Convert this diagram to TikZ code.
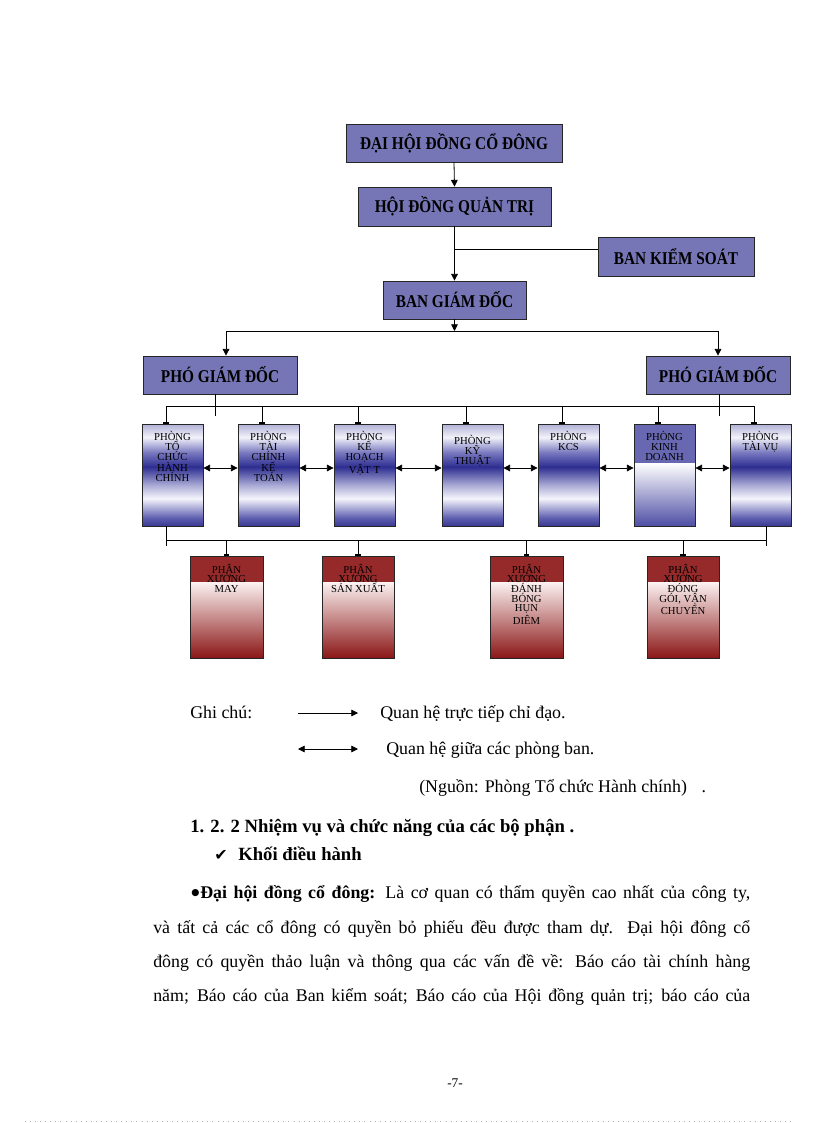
\documentclass[tikz,border=0pt]{standalone}
\usepackage{fontspec}
\setmainfont{Liberation Serif}
\newfontfamily\cfont[FakeStretch=0.85]{Liberation Serif}
\newfontfamily\symfont{DejaVu Sans}
\usetikzlibrary{arrows.meta}
\definecolor{boxblue}{RGB}{118,118,182}
\definecolor{kdblue}{RGB}{104,104,178}
\definecolor{kdlow}{RGB}{78,78,165}
\definecolor{kdmid}{RGB}{190,190,225}
\definecolor{redband}{RGB}{150,42,42}
\definecolor{redlow}{RGB}{138,22,22}
\definecolor{redmid}{RGB}{205,140,140}
\definecolor{redtop}{RGB}{252,242,242}
\pgfdeclareverticalshading{deptshade}{100bp}{rgb(0bp)=(0.22,0.22,0.57); rgb(25bp)=(0.22,0.22,0.57); rgb(29bp)=(0.37,0.37,0.69); rgb(38.5bp)=(0.96,0.96,0.99); rgb(45bp)=(0.67,0.67,0.84); rgb(54bp)=(0.18,0.18,0.57); rgb(61bp)=(0.47,0.47,0.75); rgb(68.5bp)=(0.95,0.95,0.98); rgb(75bp)=(0.69,0.69,0.84); rgb(100bp)=(0.69,0.69,0.84)}
\newcommand\lgfont{\fontsize{13.4}{16}\selectfont}
\newcommand\hdfont{\fontsize{14}{17}\selectfont\bfseries}
\newcommand\dtext[2]{\parbox[t][76.5pt][t]{#1}{\centering\fontsize{8}{7.6}\selectfont #2}}
\newcommand\rtext[2]{\parbox[t][76.5pt][t]{#1}{\centering\fontsize{8}{7.3}\selectfont #2}}
\begin{document}
\begin{tikzpicture}[x=0.75pt,y=-0.75pt,
  topbox/.style={draw=black!85, fill=boxblue, line width=0.6pt, inner sep=0pt, font=\cfont\bfseries\fontsize{13.5}{14}\selectfont},
  dept/.style={draw=black!85, line width=0.6pt, shading=deptshade, minimum width=45.75pt, minimum height=76.5pt, inner sep=0pt},
  kdbox/.style={draw=black!85, line width=0.6pt, minimum width=45.75pt, minimum height=76.5pt, inner sep=0pt,
    path picture={\fill[kdblue] (path picture bounding box.north west) rectangle ([yshift=-29.25pt]path picture bounding box.north east);
      \shade[top color=white, middle color=kdmid, bottom color=kdlow] ([yshift=-29.25pt]path picture bounding box.north west) rectangle (path picture bounding box.south east);}},
  wbox/.style={draw=black!85, line width=0.6pt, minimum height=76.5pt, inner sep=0pt,
    path picture={\fill[redband] (path picture bounding box.north west) rectangle ([yshift=-19.5pt]path picture bounding box.north east);
      \shade[top color=redtop, middle color=redmid, bottom color=redlow] ([yshift=-19.5pt]path picture bounding box.north west) rectangle (path picture bounding box.south east);}},
  conn/.style={line width=0.6pt},
  arr/.style={line width=0.6pt, -{Triangle[length=5pt,width=5pt]}},
  darr/.style={line width=0.6pt, {Triangle[length=5pt,width=5pt]}-{Triangle[length=5pt,width=5pt]}},
  stub/.style={line width=0.6pt, -{Rectangle[length=1.2pt,width=4pt]}},
  txt/.style={anchor=base west, inner sep=0pt, font=\lgfont}]
\useasboundingbox (0,0) rectangle (816,1123);

% top boxes
\node[topbox, minimum width=162pt, minimum height=28.5pt] (dhd) at (454,143) {ĐẠI HỘI ĐỒNG CỔ ĐÔNG};
\node[topbox, minimum width=144.75pt, minimum height=29.25pt] (hdqt) at (454.5,206.5) {HỘI ĐỒNG QUẢN TRỊ};
\node[topbox, minimum width=117pt, minimum height=29.25pt] (bks) at (676,256.5) {BAN KIỂM SOÁT};
\node[topbox, minimum width=107.25pt, minimum height=28.5pt] (bgd) at (454.5,300) {BAN GIÁM ĐỐC};
\node[topbox, minimum width=115.5pt, minimum height=28.5pt] (pgd1) at (220,375) {PHÓ GIÁM ĐỐC};
\node[topbox, minimum width=108pt, minimum height=28.5pt] (pgd2) at (718,375) {PHÓ GIÁM ĐỐC};

\draw[arr] (dhd.south) -- (hdqt.north);
\draw[arr] (hdqt.south) -- (bgd.north);
\coordinate (bksj) at (454.5,249);
\draw[conn] (bksj) -- (bksj -| bks.west);
\coordinate (busL) at (226,331);
\coordinate (busR) at (718,331);
\draw[arr] (bgd.south) -- (bgd.south |- busL);
\draw[conn] (busL) -- (busR);
\draw[arr] (busL) -- (busL |- pgd1.north);
\draw[arr] (busR) -- (busR |- pgd2.north);

% departments
\node[dept] (d1) at (172.5,475) {\dtext{45.75pt}{\rule{0pt}{12.5pt}PHÒNG\\TỔ\\CHỨC\\HÀNH\\CHÍNH}};
\node[dept] (d2) at (268.5,475) {\dtext{45.75pt}{\rule{0pt}{12.5pt}PHÒNG\\TÀI\\CHÍNH\\KẾ\\TOÁN}};
\node[dept] (d3) at (364.5,475) {\dtext{45.75pt}{\rule{0pt}{12.5pt}PHÒNG\\KẾ\\HOẠCH\\VẬT T}};
\node[dept] (d4) at (472.5,475) {\dtext{45.75pt}{\rule{0pt}{15.5pt}PHÒNG\\KỸ\\THUẬT}};
\node[dept] (d5) at (568.5,475) {\dtext{45.75pt}{\rule{0pt}{12.5pt}PHÒNG\\KCS}};
\node[kdbox] (d6) at (664.5,475) {\dtext{45.75pt}{\rule{0pt}{12pt}PHÒNG\\KINH\\DOANH}};
\node[dept] (d7) at (760.5,475) {\dtext{45.75pt}{\rule{0pt}{12.5pt}PHÒNG\\TÀI VỤ}};

% bus to departments
\coordinate (dbL) at (166,406);
\coordinate (dbR) at (755,406);
\draw[conn] (dbL) -- (dbR);
\draw[conn] ([xshift=-3.75pt]pgd1.south) -- ++(0,-16.5pt);
\draw[conn] ([xshift=0.75pt]pgd2.south) -- ++(0,-16.5pt);
\foreach \d in {d1,d2,d3,d4,d5,d6,d7}{
  \draw[stub] ([xshift=-4.875pt]\d.north |- dbL) -- ([xshift=-4.875pt]\d.north);
}
\draw[darr] ([yshift=5.25pt]d1.east) -- ([yshift=5.25pt]d2.west);
\draw[darr] ([yshift=5.25pt]d2.east) -- ([yshift=5.25pt]d3.west);
\draw[darr] ([yshift=5.25pt]d3.east) -- ([yshift=5.25pt]d4.west);
\draw[darr] ([yshift=5.25pt]d4.east) -- ([yshift=5.25pt]d5.west);
\draw[darr] ([yshift=5.25pt]d5.east) -- ([yshift=5.25pt]d6.west);
\draw[darr] ([yshift=5.25pt]d6.east) -- ([yshift=5.25pt]d7.west);

% workshops
\node[wbox, minimum width=54.75pt] (x1) at (226.5,607) {\rtext{54.75pt}{\rule{0pt}{12.75pt}PHÂN\\XƯỞNG\\MAY}};
\node[wbox, minimum width=54pt] (x2) at (358,607) {\rtext{54pt}{\rule{0pt}{12.75pt}PHÂN\\XƯỞNG\\SẢN XUẤT}};
\node[wbox, minimum width=54.75pt] (x3) at (526.5,607) {\rtext{54.75pt}{\rule{0pt}{12.75pt}PHÂN\\XƯỞNG\\ĐÁNH\\BÓNG\\HỤN\\DIÊM}};
\node[wbox, minimum width=54pt] (x4) at (683,607) {\rtext{54pt}{\rule{0pt}{12.75pt}PHÂN\\XƯỞNG\\ĐÓNG\\GÓI, VẬN\\CHUYỂN}};

\coordinate (bbL) at (166,540);
\coordinate (bbR) at (766,540);
\draw[conn] ([xshift=-4.875pt]d1.south) -- ([xshift=-4.875pt,yshift=-15pt]d1.south);
\draw[conn] ([xshift=4.125pt]d7.south) -- ([xshift=4.125pt,yshift=-15pt]d7.south);
\draw[conn] (bbL) -- (bbR);
\foreach \x in {x1,x2,x3,x4}{
  \draw[stub] (\x.north |- bbL) -- (\x.north);
}

% legend
\node[txt] (gc) at (190,718) {Ghi chú:};
\coordinate (l1a) at (298,713);
\coordinate (l1b) at (358,713);
\draw[arr] (l1a) -- (l1b);
\node[txt] (l1t) at (380,718) {Quan hệ trực tiếp chỉ đạo.};
\coordinate (l2a) at (298,749);
\coordinate (l2b) at (358,749);
\draw[darr] (l2a) -- (l2b);
\node[txt] (l2t) at (386,754) {Quan hệ giữa các phòng ban.};
\node[txt] (src) at (419,792) {(Nguồn: Phòng Tổ chức Hành chính)\hspace{11pt}.};

% text
\node[txt, font=\hdfont] (h1) at (190,832) {1. 2. 2 Nhiệm vụ và chức năng của các bộ phận .};
\node[txt, font=\symfont\fontsize{12}{14}\selectfont] (chk) at (214,860) {✔};
\node[txt, font=\hdfont] (h2) at (238,860) {Khối điều hành};
\node[txt, font=\symfont\fontsize{7}{8}\selectfont] (bul) at (191,895.5) {●};
\node[txt] (p1) at (200,898) {\makebox[412.5pt][s]{\textbf{Đại hội đồng cổ đông:} Là cơ quan có thẩm quyền cao nhất của công ty,}};
\node[txt] (p2) at (153,933) {\makebox[447.75pt][s]{và tất cả các cổ đông có quyền bỏ phiếu đều được tham dự. Đại hội đông cổ}};
\node[txt] (p3) at (153,967) {\makebox[447.75pt][s]{đông có quyền thảo luận và thông qua các vấn đề về: Báo cáo tài chính hàng}};
\node[txt] (p4) at (153,1001) {\makebox[447.75pt][s]{năm; Báo cáo của Ban kiểm soát; Báo cáo của Hội đồng quản trị; báo cáo của}};
\node[txt, font=\fontsize{10}{12}\selectfont] (pg) at (447,1087) {-7-};

\coordinate (pl) at (25,1121);
\coordinate (pr) at (792,1121);
\draw[gray!60, line width=0.5pt, dash pattern=on 0.5pt off 3.3pt] (pl) -- (pr);
\end{tikzpicture}
\end{document}
